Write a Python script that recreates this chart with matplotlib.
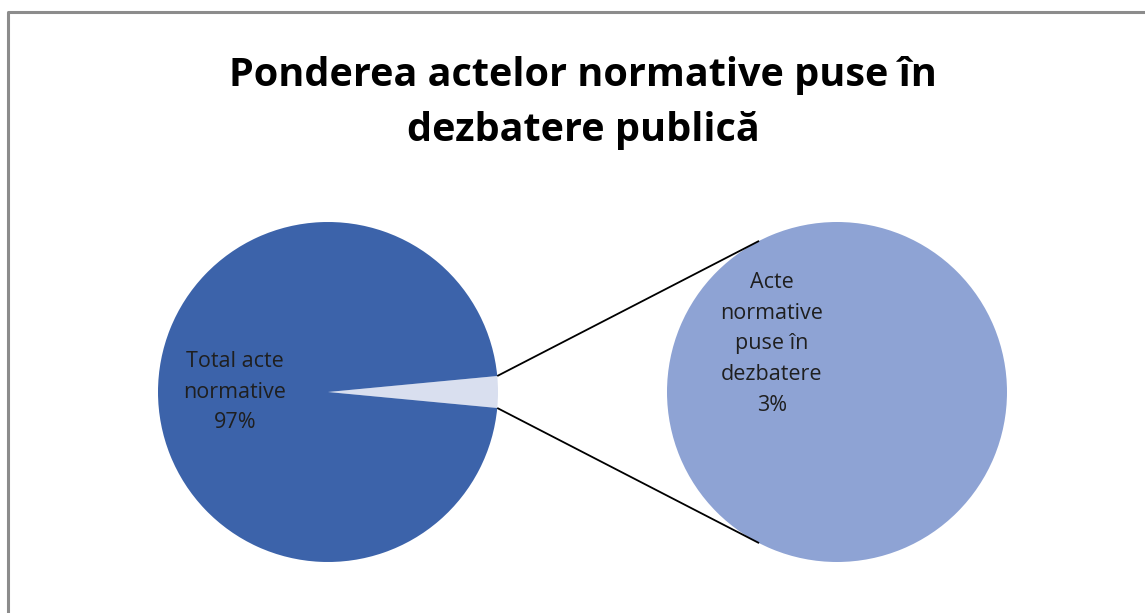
import numpy as np
import matplotlib
matplotlib.use("Agg")
import matplotlib.pyplot as plt
from matplotlib.lines import Line2D

# ---- data ----
title = "Ponderea actelor normative puse în\ndezbatere publică"
main_labels = ["Acte normative puse în dezbatere", "Total acte normative"]
main_values = [3, 97]
sub_labels = ["Acte normative puse în dezbatere"]
sub_values = [3]

main_colors = ["#D9DFEF", "#3C63AA"]
sub_color = "#8EA3D4"

W, H = 1145, 613
fig = plt.figure(figsize=(W / 100, H / 100), dpi=100)
ax = fig.add_axes([0, 0, 1, 1])

plt.rcParams['font.family'] = ['Open Sans', 'DejaVu Sans']

# main pie
c1 = (328, H - 392)
r = 170
small_angle = 360 * main_values[0] / sum(main_values)
ax.pie(main_values, colors=main_colors, startangle=-small_angle / 2,
       center=c1, radius=r, counterclock=True, frame=True,
       wedgeprops=dict(linewidth=0))

# secondary pie
c2 = (837, H - 392)
ax.pie(sub_values, colors=[sub_color], startangle=90, center=c2, radius=r,
       frame=True, wedgeprops=dict(linewidth=0))
ax.set_xlim(0, W)
ax.set_ylim(0, H)
ax.set_aspect("equal")
ax.axis("off")

# connector lines (tangent from wedge edge to secondary pie)
def tangent_point(P, C, rad, sign):
    P = np.array(P, float); C = np.array(C, float)
    v = P - C
    d = np.linalg.norm(v)
    beta = np.arccos(rad / d) * sign
    u = v / d
    rot = np.array([[np.cos(beta), -np.sin(beta)], [np.sin(beta), np.cos(beta)]])
    return C + rad * rot @ u

half = np.deg2rad(small_angle / 2)
for sgn in (1, -1):
    P = (c1[0] + r * np.cos(half), c1[1] + sgn * r * np.sin(half))
    T = tangent_point(P, c2, r, -sgn)
    ax.plot([P[0], T[0]], [P[1], T[1]], color="black", lw=1.3,
            solid_capstyle="butt")

# labels
fs = 15.5
ax.text(235, H - 392, f"Total acte\nnormative\n{main_values[1]}%", ha="center",
        va="center", fontsize=fs, color="#1f1f1f", linespacing=1.6)
ax.text(772, H - 344, f"Acte\nnormative\npuse în\ndezbatere\n{sub_values[0]}%",
        ha="center", va="center", fontsize=fs, color="#1f1f1f", linespacing=1.6)

# title
ax.text(583, H - 103, title, ha="center", va="center", fontsize=28.5,
        fontweight="bold", color="black", linespacing=1.55)

# chart border (top & left visible)
fig.add_artist(Line2D([8 / W, 8 / W, 1.0], [0.0, 1 - 12 / H, 1 - 12 / H],
                      transform=fig.transFigure, color="#8C8C8C", lw=2.2))

fig.savefig("out.png", dpi=100, facecolor="white")
